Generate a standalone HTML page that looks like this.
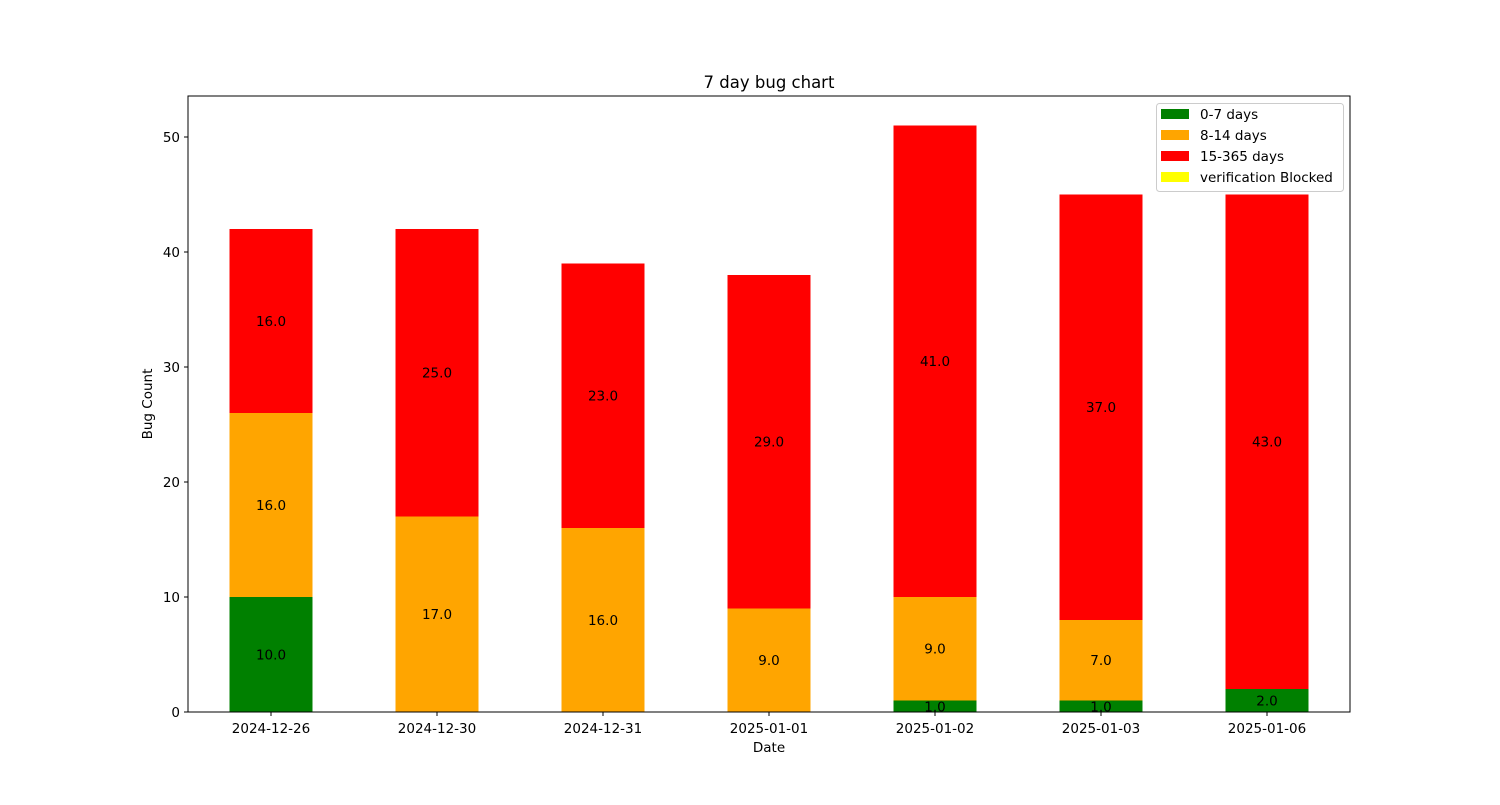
<!DOCTYPE html>
<html><head><meta charset="utf-8">
<style>
body{margin:0;background:#fff;}
svg text{font-family:"DejaVu Sans","Liberation Sans",sans-serif;fill:#000;}
</style></head>
<body>
<svg id="chart" width="1500" height="800" xmlns="http://www.w3.org/2000/svg">
<rect width="1500" height="800" fill="#fff"/>
<g id="bars"></g>
<g id="axes"></g>
</svg>
<script>
const categories = ["2024-12-26","2024-12-30","2024-12-31","2025-01-01","2025-01-02","2025-01-03","2025-01-06"];
const seriesNames = ["0-7 days","8-14 days","15-365 days","verification Blocked"];
const seriesColors = ["green","orange","red","yellow"];
const days0to7 = [10,0,0,0,1,1,2];
const days8to14 = [16,17,16,9,9,7,0];
const days15to365 = [16,25,23,29,41,37,43];
const verificationBlocked = [0,0,0,0,0,0,0];
const yTicks = [0,10,20,30,40,50];

const series = [days0to7, days8to14, days15to365, verificationBlocked];
const L=188,R=1350,T=96,B=712;
const yMax=53.565;
const ns="http://www.w3.org/2000/svg";
function y(v){return B-(v/yMax)*(B-T);}
function xc(i){return L+(i+0.5)*(R-L)/categories.length;}
const bw=0.5*(R-L)/categories.length;
function mk(tag,attrs,parent,text){const e=document.createElementNS(ns,tag);for(const k in attrs)e.setAttribute(k,attrs[k]);if(text!==undefined)e.textContent=text;parent.appendChild(e);return e;}
const gb=document.getElementById('bars'), ga=document.getElementById('axes');
categories.forEach((c,i)=>{
  let base=0;
  series.forEach((s,si)=>{
    const v=s[i];
    if(v>0){
      const r=mk('rect',{x:xc(i)-bw/2,y:y(base+v),width:bw,height:y(base)-y(base+v),fill:seriesColors[si]},gb);
      
      
      const t=mk('text',{x:xc(i),y:y(base+v/2)+5,'text-anchor':'middle','font-size':'13.5'},gb,v.toFixed(1));
      
      
    }
    base+=v;
  });
});
// frame
const fr=mk('rect',{x:L,y:T,width:R-L,height:B-T,fill:'none',stroke:'#000','stroke-width':1},ga);


yTicks.forEach(v=>{
  mk('line',{x1:L-4,x2:L,y1:y(v),y2:y(v),stroke:'#000'},ga);
  const t=mk('text',{x:L-8,y:y(v)+5,'text-anchor':'end','font-size':'13.5'},ga,String(v));
  
  
});
categories.forEach((c,i)=>{
  mk('line',{x1:xc(i),x2:xc(i),y1:B,y2:B+4,stroke:'#000'},ga);
  const t=mk('text',{x:xc(i),y:B+21,'text-anchor':'middle','font-size':'13.5'},ga,c);
  
  
});
let t=mk('text',{x:(L+R)/2,y:88,'text-anchor':'middle','font-size':'16.5'},ga,'7 day bug chart');


t=mk('text',{x:(L+R)/2,y:752,'text-anchor':'middle','font-size':'13.5'},ga,'Date');


t=mk('text',{x:152,y:404,'text-anchor':'middle','font-size':'13.5',transform:'rotate(-90 152 404)'},ga,'Bug Count');


// legend
const lg=mk('g',{},ga);


mk('rect',{x:1156.5,y:103.5,width:187,height:88,rx:3,fill:'#fff','fill-opacity':0.8,stroke:'#ccc'},lg);
seriesNames.forEach((n,i)=>{
  const yy=114+i*21;
  const e=mk('g',{},lg);
  
  
  mk('rect',{x:1161,y:yy-5,width:28,height:10,fill:seriesColors[i]},e);
  mk('text',{x:1200,y:yy+5,'font-size':'13.5'},e,n);
});
</script>
</body></html>
